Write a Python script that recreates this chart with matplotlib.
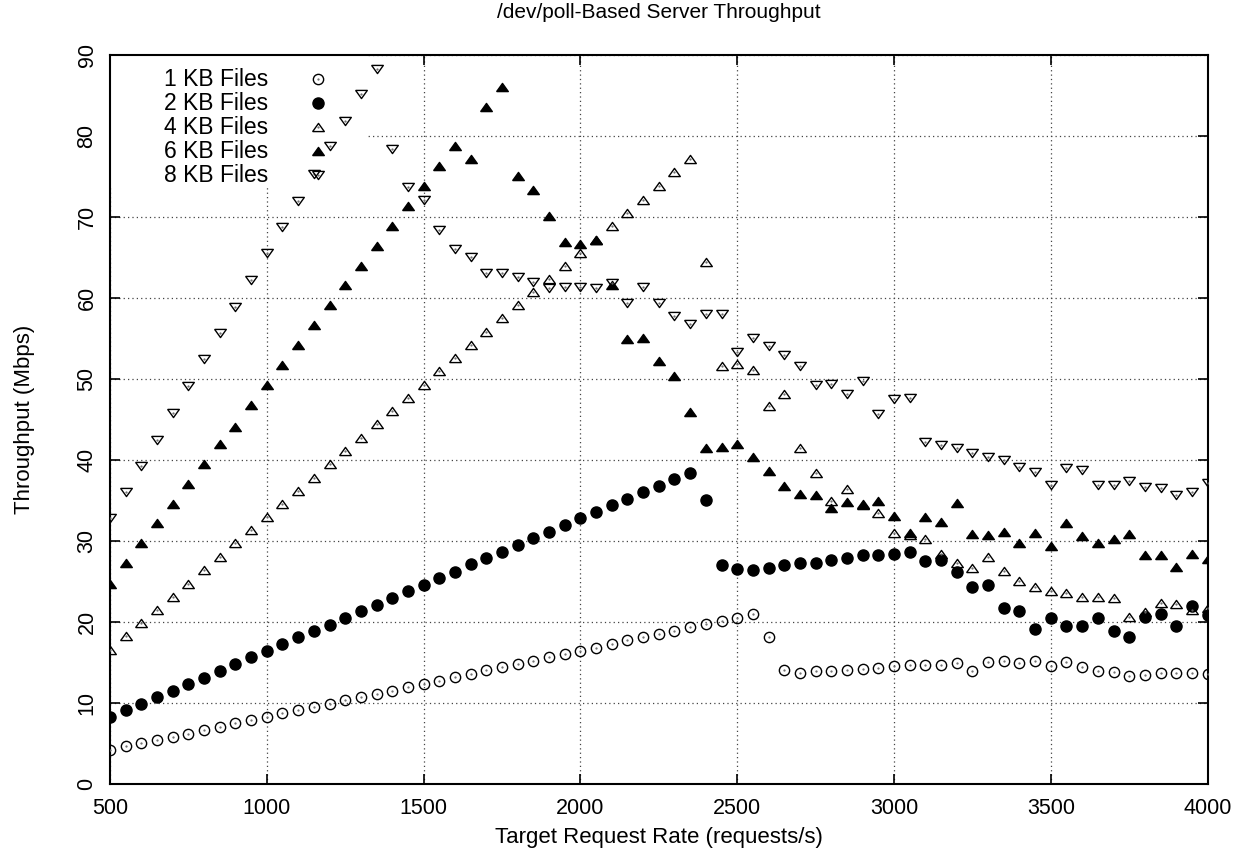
import matplotlib
matplotlib.use("Agg")
import matplotlib.pyplot as plt
from matplotlib.patches import Rectangle

plt.rcParams['font.family'] = ['Liberation Sans', 'DejaVu Sans']

rates = list(range(500, 4001, 50))

kb1 = [4.2, 4.6, 5.0, 5.4, 5.8, 6.2, 6.6, 7.0, 7.5, 7.9,
       8.2, 8.7, 9.1, 9.5, 9.9, 10.3, 10.7, 11.1, 11.5, 11.9,
       12.3, 12.7, 13.2, 13.6, 14.0, 14.4, 14.8, 15.2, 15.6, 16.0,
       16.4, 16.8, 17.2, 17.7, 18.1, 18.5, 18.9, 19.3, 19.7, 20.1,
       20.5, 20.9, 18.1, 14.0, 13.7, 13.9, 13.95, 14.1, 14.2, 14.3,
       14.5, 14.6, 14.65, 14.7, 14.9, 13.95, 15.05, 15.2, 14.9, 15.2,
       14.5, 15.0, 14.45, 13.95, 13.75, 13.25, 13.4, 13.7, 13.7, 13.7,
       13.6]

kb2 = [8.2, 9.06, 9.9, 10.67, 11.5, 12.3, 13.1, 13.95, 14.8, 15.6,
       16.4, 17.2, 18.1, 18.85, 19.6, 20.5, 21.3, 22.1, 22.9, 23.8,
       24.6, 25.4, 26.2, 27.1, 27.9, 28.6, 29.5, 30.3, 31.1, 31.9,
       32.8, 33.6, 34.4, 35.2, 36.0, 36.8, 37.65, 38.4, 35.0, 27.0,
       26.5, 26.4, 26.7, 26.95, 27.2, 27.3, 27.65, 27.9, 28.2, 28.3,
       28.4, 28.6, 27.5, 27.6, 26.1, 24.3, 24.6, 21.65, 21.3, 19.1,
       20.5, 19.5, 19.5, 20.5, 18.8, 18.15, 20.6, 20.9, 19.5, 22.0,
       20.8]

kb4 = [16.5, 18.2, 19.8, 21.4, 23.1, 24.7, 26.35, 28.0, 29.7, 31.3,
       32.9, 34.5, 36.2, 37.8, 39.5, 41.1, 42.7, 44.4, 46.0, 47.6,
       49.3, 50.95, 52.6, 54.2, 55.85, 57.5, 59.1, 60.7, 62.3, 64.0,
       65.6, 67.1, 68.9, 70.5, 72.15, 73.8, 75.5, 77.1, 64.4, 51.6,
       51.8, 51.1, 46.6, 48.1, 41.5, 38.4, 34.9, 36.4, 34.5, 33.4,
       31.0, 30.7, 30.2, 28.4, 27.3, 26.65, 27.95, 26.3, 25.05, 24.25,
       23.8, 23.6, 23.0, 23.1, 22.9, 20.6, 21.2, 22.35, 22.2, 21.4,
       21.65]

kb6 = [24.65, 27.2, 29.7, 32.15, 34.6, 37.0, 39.5, 41.9, 44.0, 46.8,
       49.3, 51.7, 54.2, 56.7, 59.1, 61.6, 64.0, 66.4, 68.9, 71.4,
       73.8, 76.3, 78.7, 77.1, 83.6, 86.1, 75.0, 73.3, 70.1, 66.9,
       66.6, 67.1, 61.65, 54.9, 55.1, 52.2, 50.4, 45.85, 41.5, 41.6,
       42.0, 40.4, 38.6, 36.8, 35.8, 35.6, 34.1, 34.8, 34.4, 34.9,
       33.1, 31.0, 32.9, 32.3, 34.7, 30.8, 30.7, 31.1, 29.75, 31.0,
       29.3, 32.15, 30.6, 29.7, 30.2, 30.8, 28.3, 28.3, 26.75, 28.4,
       27.8]

kb8 = [32.8, 36.0, 39.3, 42.5, 45.8, 49.1, 52.4, 55.7, 58.9, 62.2,
       65.5, 68.7, 72.0, 75.3, 78.7, 81.9, 85.2, 88.3, 78.4, 73.7,
       72.05, 68.35, 66.0, 65.1, 63.1, 63.1, 62.6, 62.0, 61.2, 61.4,
       61.4, 61.2, 61.8, 59.4, 61.3, 59.4, 57.8, 56.8, 58.0, 58.0,
       53.3, 55.1, 54.0, 53.0, 51.65, 49.2, 49.4, 48.1, 49.75, 45.7,
       47.5, 47.65, 42.2, 41.8, 41.4, 40.9, 40.3, 39.95, 39.1, 38.5,
       36.9, 39.0, 38.7, 36.95, 36.95, 37.4, 36.7, 36.5, 35.6, 36.05,
       37.2]

labels = ["1 KB Files", "2 KB Files", "4 KB Files", "6 KB Files", "8 KB Files"]
xticks = [500, 1000, 1500, 2000, 2500, 3000, 3500, 4000]
yticks = [0, 10, 20, 30, 40, 50, 60, 70, 80, 90]

up_tri = [(-1, -0.7), (1, -0.7), (0, 0.7), (-1, -0.7)]
down_tri = [(-1, 0.7), (1, 0.7), (0, -0.7), (-1, 0.7)]

W, H = 1238, 857
L, R, B, T = 110, 1207.6, 783.7, 55
fig = plt.figure(figsize=(W / 100, H / 100), dpi=100)
ax = fig.add_axes([L / W, 1 - B / H, (R - L) / W, (B - T) / H])

def ax_x(px):
    return (px - L) / (R - L)

def ax_y(py):
    return (B - py) / (B - T)

ax.set_axisbelow(True)
ax.grid(True, linestyle=(0, (1, 2.5)), color='#444444', linewidth=0.9)

# white box behind key (covers grid, stays below data)
ax.add_patch(Rectangle((0, ax_y(187)), ax_x(368), 1 - ax_y(187), transform=ax.transAxes,
                       facecolor='white', edgecolor='none', zorder=1))

styles = [
    dict(marker='o', ms=7.4, mfc='none', mec='black', mew=1.0),
    dict(marker='o', ms=8.0, mfc='black', mec='black', mew=1.0),
    dict(marker=up_tri, ms=8.4, mfc='none', mec='black', mew=1.0),
    dict(marker=up_tri, ms=8.4, mfc='black', mec='black', mew=1.0),
    dict(marker=down_tri, ms=8.4, mfc='none', mec='black', mew=1.0),
]
series = [kb1, kb2, kb4, kb6, kb8]

for i, (vals, st, lab) in enumerate(zip(series, styles, labels)):
    ax.plot(rates, vals, linestyle='none', label=lab, zorder=3, **st)
    if st['mfc'] == 'none':
        ax.plot(rates, vals, linestyle='none', marker='.', ms=1.2,
                color='#666666', zorder=3)
    # key entry: right-aligned text, symbol to the right
    ky = ax_y(79 + 24 * i)
    ax.text(ax_x(268), ky, lab, transform=ax.transAxes, ha='right', va='center',
            fontsize=16.5, zorder=5)
    ax.plot([ax_x(318)], [ky], transform=ax.transAxes, linestyle='none',
            clip_on=False, zorder=5, **st)
    if st['mfc'] == 'none':
        ax.plot([ax_x(318)], [ky], transform=ax.transAxes, linestyle='none',
                marker='.', ms=1.2, color='#666666', zorder=5)

ax.set_xlim(500, 4000)
ax.set_ylim(0, 90)
ax.set_xticks(xticks)
ax.set_yticks(yticks)
ax.tick_params(direction='in', length=7, width=1.2, top=True, right=True,
               labelsize=15.5)
ax.tick_params(axis='x', pad=10)
ax.tick_params(axis='y', pad=9)
for t in ax.get_yticklabels():
    t.set_rotation(90)
    t.set_va('center')
for s in ax.spines.values():
    s.set_linewidth(1.5)

ax.set_xlabel("Target Request Rate (requests/s)", fontsize=16)
ax.set_ylabel("Throughput (Mbps)", fontsize=16)
ax.xaxis.label.set_va('center')
ax.yaxis.label.set_va('center')
ax.xaxis.set_label_coords(0.5, ax_y(838))
ax.yaxis.set_label_coords(ax_x(25), 0.5)

fig.text(0.5 * (L + R) / W, 1 - 13 / H, "/dev/poll-Based Server Throughput",
         ha='center', va='center', fontsize=15)

fig.savefig("out.png", dpi=100)
